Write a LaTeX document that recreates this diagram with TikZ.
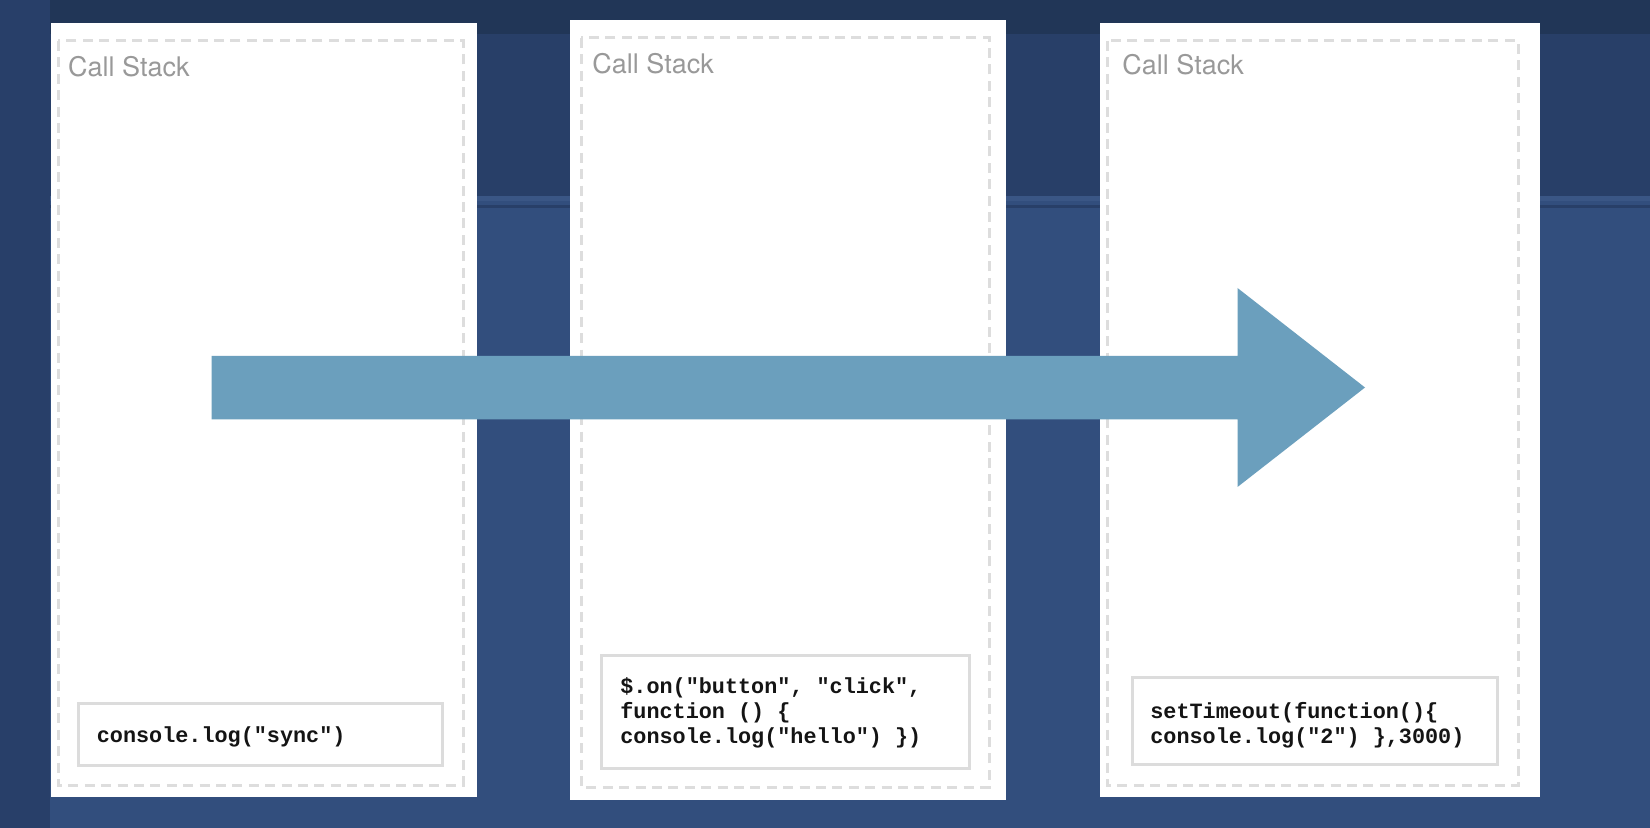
\documentclass[tikz,border=0pt]{standalone}
\usepackage{fontspec}
\newfontfamily\titlefont{TeX Gyre Heros}
\newfontfamily\codefont{Liberation Mono}
\definecolor{bglow}{HTML}{324E7D}
\definecolor{bgleft}{HTML}{283F69}
\definecolor{bgband}{HTML}{283F68}
\definecolor{bgtop}{HTML}{213657}
\definecolor{bgline}{HTML}{3A5685}
\definecolor{dashgray}{HTML}{DDDDDD}
\definecolor{boxgray}{HTML}{DCDCDC}
\definecolor{titlegray}{HTML}{999999}
\definecolor{arrowblue}{HTML}{6B9FBD}
\tikzset{
  panel/.style={fill=white},
  dashbox/.style={draw=dashgray, line width=1.5pt, dash pattern=on 5pt off 3.2pt},
  codebox/.style={draw=boxgray, line width=1.5pt},
  title/.style={anchor=base west, inner sep=0pt, text=titlegray, font=\titlefont\fontsize{13.5pt}{16pt}\selectfont},
  code/.style={anchor=base west, inner sep=0pt, text=black!92, font=\codefont\bfseries\fontsize{10.9pt}{12.5pt}\selectfont},
}
\begin{document}
\begin{tikzpicture}[x=0.5pt,y=-0.5pt]
\useasboundingbox (0,0) rectangle (1650,828);
% background
\fill[bglow] (0,0) rectangle (1650,828);
\fill[bgband] (0,34) rectangle (1650,196);
\fill[bgtop] (0,0) rectangle (1650,34);
\fill[bgline] (0,196) rectangle (1650,201);
\fill[bgband] (0,205) rectangle (1650,208);
\fill[bgleft] (0,0) rectangle (50,828);
% panel 1
\fill[panel] (50.5,23) rectangle (476.7,797);
\draw[dashbox] (58,41) rectangle (463,785);
\node[title] (t1) at (67.7,76.7) {Call Stack};
\draw[codebox] (78,703.5) rectangle (442.5,765);
\node[code] (c1) at (96.5,742.7) {console.log("sync")};
% panel 2
\fill[panel] (570.4,20) rectangle (1006,800);
\draw[dashbox] (581,38) rectangle (989,787);
\node[title] (t2) at (592,74) {Call Stack};
\draw[codebox] (601,655) rectangle (969,768);
\node[code] (c2a) at (620,693) {\$.on("button", "click",};
\node[code] (c2b) at (620,718) {function () \{};
\node[code] (c2c) at (620,743) {console.log("hello") \})};
% panel 3
\fill[panel] (1099.6,23) rectangle (1539.6,797);
\draw[dashbox] (1107,41) rectangle (1518,785);
\node[title] (t3) at (1122,75) {Call Stack};
\draw[codebox] (1132,677.5) rectangle (1497,764);
\node[code] (c3a) at (1150,718) {setTimeout(function()\{};
\node[code] (c3b) at (1150,743) {console.log("2") \},3000)};
% big arrow
\fill[arrowblue] (211.5,356) -- (1237.5,356) -- (1237.5,288) -- (1365,387.5)
  -- (1237.5,487) -- (1237.5,419.5) -- (211.5,419.5) -- cycle;
\end{tikzpicture}
\end{document}
